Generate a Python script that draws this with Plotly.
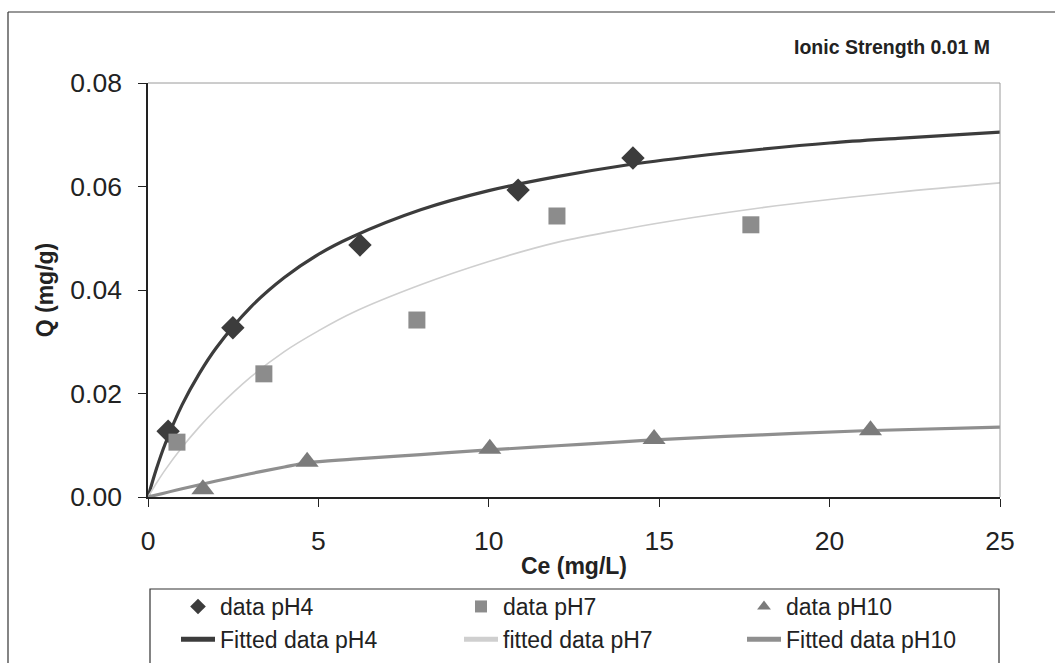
import plotly.graph_objects as go

# ---- data ----
ce_ph4 = [0.59, 2.49, 6.22, 10.86, 14.23]
q_ph4 = [0.0127, 0.0327, 0.0487, 0.0593, 0.0655]

ce_ph7 = [0.85, 3.40, 7.89, 12.0, 17.69]
q_ph7 = [0.0106, 0.0238, 0.0342, 0.0543, 0.0526]

ce_ph10 = [1.61, 4.67, 10.03, 14.85, 21.2]
q_ph10 = [0.0015, 0.0068, 0.0093, 0.0112, 0.0129]

fit_x4 = [0, 0.25, 0.5, 1, 1.5, 2, 3, 4, 5, 6, 8, 10, 12, 14, 16, 18, 20, 22, 25]
fit_q4 = [0, 0.0055, 0.0102, 0.0178, 0.0238, 0.0288, 0.0366, 0.0424, 0.0469, 0.0503,
          0.0555, 0.0592, 0.0619, 0.0641, 0.0658, 0.0672, 0.0684, 0.0693, 0.0705]

fit_x7 = [0, 0.25, 0.5, 1, 1.5, 2, 3, 4, 5, 6, 8, 10, 12, 14, 16, 18, 20, 22, 25]
fit_q7 = [0, 0.0027, 0.0052, 0.0096, 0.0135, 0.0170, 0.0231, 0.0281, 0.0321, 0.0356,
          0.0410, 0.0455, 0.0492, 0.0518, 0.0540, 0.0559, 0.0575, 0.0589, 0.0607]

fit_x10 = [0, 1, 2, 3, 4, 4.67, 6, 8, 10, 12, 14, 15, 18, 21, 25]
fit_q10 = [0, 0.0016, 0.0031, 0.0045, 0.0058, 0.0066, 0.0073, 0.0082, 0.0091, 0.0099,
           0.0107, 0.0111, 0.0120, 0.0128, 0.0135]

x_ticks = [0, 5, 10, 15, 20, 25]
y_ticks = [0.00, 0.02, 0.04, 0.06, 0.08]

C4 = "#3c3c3c"
C7m = "#8c8c8c"
C7l = "#cfcfcf"
C10m = "#7b7b7b"
C10l = "#8f8f8f"

fig = go.Figure()

# fitted lines (drawn below the markers)
fig.add_trace(go.Scatter(x=fit_x4, y=fit_q4, mode="lines", name="Fitted data pH4",
                         line=dict(color=C4, width=3.2, shape="spline"), legendrank=4))
fig.add_trace(go.Scatter(x=fit_x7, y=fit_q7, mode="lines", name="fitted data pH7",
                         line=dict(color=C7l, width=1.6, shape="spline"), legendrank=5))
fig.add_trace(go.Scatter(x=fit_x10, y=fit_q10, mode="lines", name="Fitted data pH10",
                         line=dict(color=C10l, width=3.2, shape="spline"), legendrank=6))

# data markers
fig.add_trace(go.Scatter(x=ce_ph4, y=q_ph4, mode="markers", name="data pH4",
                         marker=dict(symbol="diamond", size=18, color=C4), legendrank=1))
fig.add_trace(go.Scatter(x=ce_ph7, y=q_ph7, mode="markers", name="data pH7",
                         marker=dict(symbol="square", size=17, color=C7m), legendrank=2))
fig.add_trace(go.Scatter(x=ce_ph10, y=q_ph10, mode="markers", name="data pH10",
                         marker=dict(symbol="triangle-up", size=20, color=C10m), legendrank=3))

font_family = "Liberation Sans, Arial, sans-serif"
W, H = 1055, 663
ML, MR, MT, MB = 148, 55, 83, 166
PW, PH = W - ML - MR, H - MT - MB


def px_x(px):
    return (px - ML) / PW


def px_y(py):
    return (H - MB - py) / PH


fig.update_layout(
    width=W, height=H,
    margin=dict(l=ML, r=MR, t=MT, b=MB, autoexpand=False),
    paper_bgcolor="white", plot_bgcolor="white",
    font=dict(family=font_family, color="#222222"),
    showlegend=True,
    legend=dict(
        orientation="h",
        x=px_x(176), xanchor="left",
        y=px_y(585), yanchor="top",
        entrywidth=234,
        itemwidth=34,
        itemsizing="constant",
        font=dict(size=23, color="#222222"),
        bgcolor="rgba(0,0,0,0)",
        borderwidth=0,
        traceorder="normal",
        tracegroupgap=0,
    ),
    xaxis=dict(
        range=[0, 25], tickvals=x_ticks, ticktext=[str(v) for v in x_ticks],
        showgrid=False, zeroline=False,
        showline=True, linecolor="#222222", linewidth=1.5,
        ticks="outside", ticklen=8, tickwidth=1.3, tickcolor="#222222",
        tickfont=dict(size=26.5, color="#222222"),
        ticklabelstandoff=11,
        title=dict(text="<b>Ce (mg/L)</b>", font=dict(size=23, color="#222222"), standoff=3),
        automargin=False,
    ),
    yaxis=dict(
        range=[0, 0.08], tickvals=y_ticks, tickformat=".2f",
        showgrid=False, zeroline=False,
        showline=True, linecolor="#222222", linewidth=1.5,
        ticks="outside", ticklen=8, tickwidth=1.3, tickcolor="#222222",
        tickfont=dict(size=26.5, color="#222222"),
        ticklabelstandoff=11,
        title=dict(text="<b>Q (mg/g)</b>", font=dict(size=23, color="#222222"), standoff=10),
        automargin=False,
    ),
    shapes=[
        # plot area top/right border
        dict(type="line", xref="x domain", yref="y domain", x0=0, x1=1, y0=1, y1=1,
             line=dict(color="#9a9a9a", width=1)),
        dict(type="line", xref="x domain", yref="y domain", x0=1, x1=1, y0=0, y1=1,
             line=dict(color="#9a9a9a", width=1)),
        # outer chart frame
        dict(type="line", xref="paper", yref="paper", x0=px_x(8), x1=px_x(1060), y0=px_y(12), y1=px_y(12),
             line=dict(color="#333333", width=1.2)),
        dict(type="line", xref="paper", yref="paper", x0=px_x(8), x1=px_x(8), y0=px_y(12), y1=px_y(670),
             line=dict(color="#333333", width=1.2)),
        # legend frame
        dict(type="rect", xref="paper", yref="paper", x0=px_x(150), x1=px_x(999), y0=px_y(589), y1=px_y(675),
             line=dict(color="#333333", width=1.2)),
    ],
    annotations=[
        dict(text="<b>Ionic Strength 0.01 M</b>", xref="paper", yref="paper",
             x=px_x(992), y=px_y(47), xanchor="right", yanchor="middle",
             showarrow=False, font=dict(size=19.5, color="#222222")),
    ],
)

fig.write_html("out.html")
